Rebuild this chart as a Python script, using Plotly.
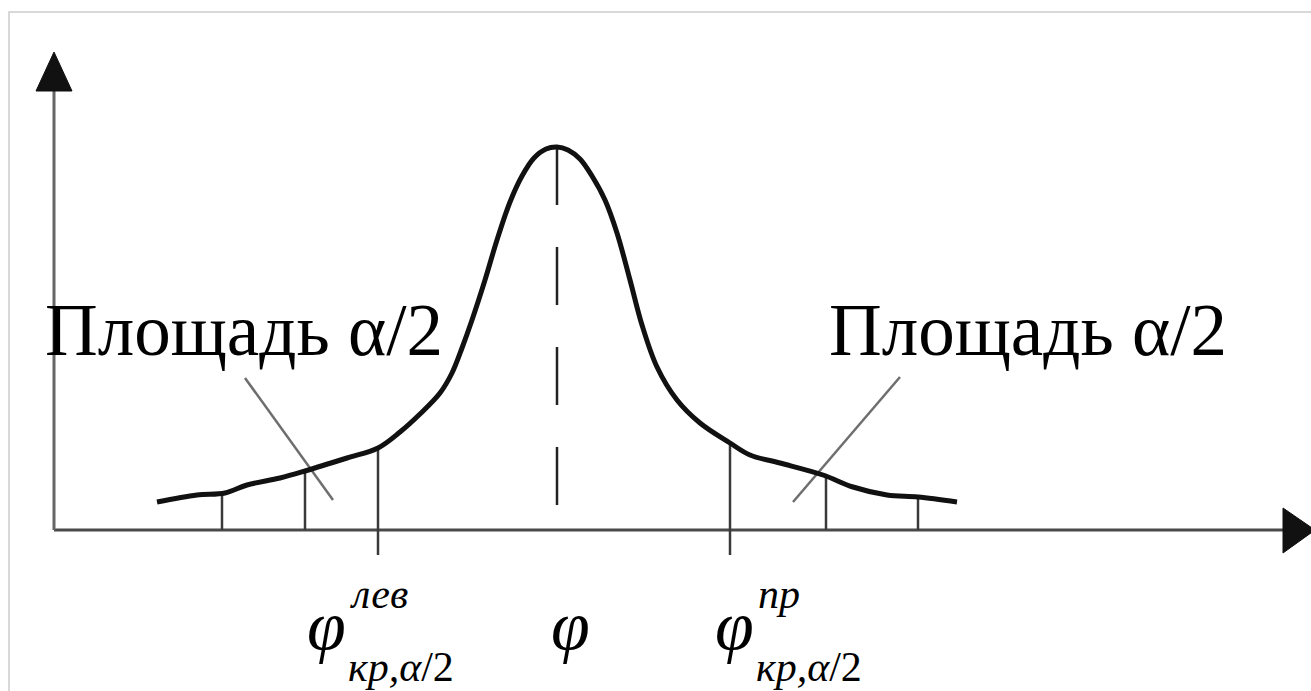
import numpy as np
import plotly.graph_objects as go

# Density curve: horizontal position and height above the x axis
curve_x = [157, 197, 225, 247, 280, 305, 347, 378, 400, 420, 440, 452, 462, 472,
           485, 497, 510, 522, 534, 546, 557, 568, 580, 592, 605, 617, 630, 642,
           657, 677, 700, 730, 750, 780, 823, 853, 887, 918, 957]
curve_y = [28, 35, 37, 45, 52, 59, 72, 82, 98, 116, 137, 157, 182, 210,
           250, 290, 328, 354, 372, 381, 383, 380, 371, 354, 330, 297, 250, 205,
           163, 130, 107, 87, 75, 67, 55, 43, 35, 33, 28]

# Centre of the distribution (value of the statistic)
phi_x = 557
# Critical points (left and right) and the inner/outer tail ticks
crit_left, crit_right = 378, 730
tick_x = [222, 305, 826, 918]

# Leader lines from the captions into the tails: (x_start, y_start, x_end, y_end)
leader_left = (245, 152, 333, 30)
leader_right = (900, 153, 793, 28)

area_label = "Площадь α/2"

W, H = 1311, 691
X0, Y0 = 54, 530          # pixel position of the axes origin
AXIS_COLOR = "#4a4a4a"
LINE_COLOR = "#3a3a3a"
SERIF = "Liberation Serif, Times New Roman, serif"


def curve_at(x):
    return float(np.interp(x, curve_x, curve_y))


fig = go.Figure()

# Axes
fig.add_trace(go.Scatter(x=[X0, 1290], y=[0, 0], mode="lines",
                         line=dict(color=AXIS_COLOR, width=3), hoverinfo="skip"))
fig.add_trace(go.Scatter(x=[X0, X0], y=[0, Y0 - 85], mode="lines",
                         line=dict(color="#666666", width=3), hoverinfo="skip"))

# Arrow heads
fig.add_shape(type="path", xref="x", yref="y",
              path=f"M {X0-18},{Y0-91} L {X0+18},{Y0-91} L {X0},{Y0-52} Z",
              fillcolor="#111111", line=dict(color="#111111", width=1))
fig.add_shape(type="path", xref="x", yref="y",
              path="M 1283,22 L 1283,-23 L 1315,0 Z",
              fillcolor="#111111", line=dict(color="#111111", width=1))

# Tick lines under the curve
for tx in tick_x:
    fig.add_trace(go.Scatter(x=[tx, tx], y=[0, curve_at(tx)], mode="lines",
                             line=dict(color=LINE_COLOR, width=2.5), hoverinfo="skip"))
for cx in (crit_left, crit_right):
    fig.add_trace(go.Scatter(x=[cx, cx], y=[-25, curve_at(cx)], mode="lines",
                             line=dict(color=LINE_COLOR, width=2.5), hoverinfo="skip"))

# Dashed centre line
fig.add_trace(go.Scatter(x=[phi_x, phi_x], y=[curve_at(phi_x), 0], mode="lines",
                         line=dict(color="#222222", width=2.5, dash="58px,42px"),
                         hoverinfo="skip"))

# Leader lines
for (xa, ya, xb, yb) in (leader_left, leader_right):
    fig.add_trace(go.Scatter(x=[xa, xb], y=[ya, yb], mode="lines",
                             line=dict(color="#6e6e6e", width=2.5), hoverinfo="skip"))

# Density curve
fig.add_trace(go.Scatter(x=curve_x, y=curve_y, mode="lines",
                         line=dict(color="#111111", width=5, shape="spline",
                                   smoothing=1.0),
                         hoverinfo="skip"))

# Captions
for lx in (43, 827):
    fig.add_annotation(x=lx, y=Y0 - 330, xref="x", yref="y", text=area_label,
                       showarrow=False, xanchor="left", yanchor="middle",
                       font=dict(family=SERIF, size=73, color="#000000"))

# φ labels
fig.add_annotation(x=phi_x + 13, y=Y0 - 625, text="<i>φ</i>", showarrow=False,
                   xanchor="center", yanchor="middle",
                   font=dict(family=SERIF, size=70, color="#000000"))
for px, sup in ((305, "лев"), (713, "пр")):
    fig.add_annotation(x=px, y=Y0 - 625, text="<i>φ</i>", showarrow=False,
                       xanchor="left", yanchor="middle",
                       font=dict(family=SERIF, size=70, color="#000000"))
    fig.add_annotation(x=px + 43, y=Y0 - 594, text=f"<i>{sup}</i>", showarrow=False,
                       xanchor="left", yanchor="middle",
                       font=dict(family=SERIF, size=42, color="#000000"))
    fig.add_annotation(x=px + 41, y=Y0 - 667, text="<i>кр,α</i>/2", showarrow=False,
                       xanchor="left", yanchor="middle",
                       font=dict(family=SERIF, size=42, color="#000000"))

# Light frame
fig.add_shape(type="rect", xref="paper", yref="paper",
              x0=9 / W, x1=1.02, y0=-0.05, y1=1 - 12 / H,
              line=dict(color="#cccccc", width=1.5))

fig.update_layout(
    width=W, height=H, margin=dict(l=0, r=0, t=0, b=0),
    paper_bgcolor="white", plot_bgcolor="white", showlegend=False,
    xaxis=dict(range=[0, W], visible=False, fixedrange=True),
    yaxis=dict(range=[Y0 - H, Y0], visible=False, fixedrange=True),
)

fig.write_html("out.html")
